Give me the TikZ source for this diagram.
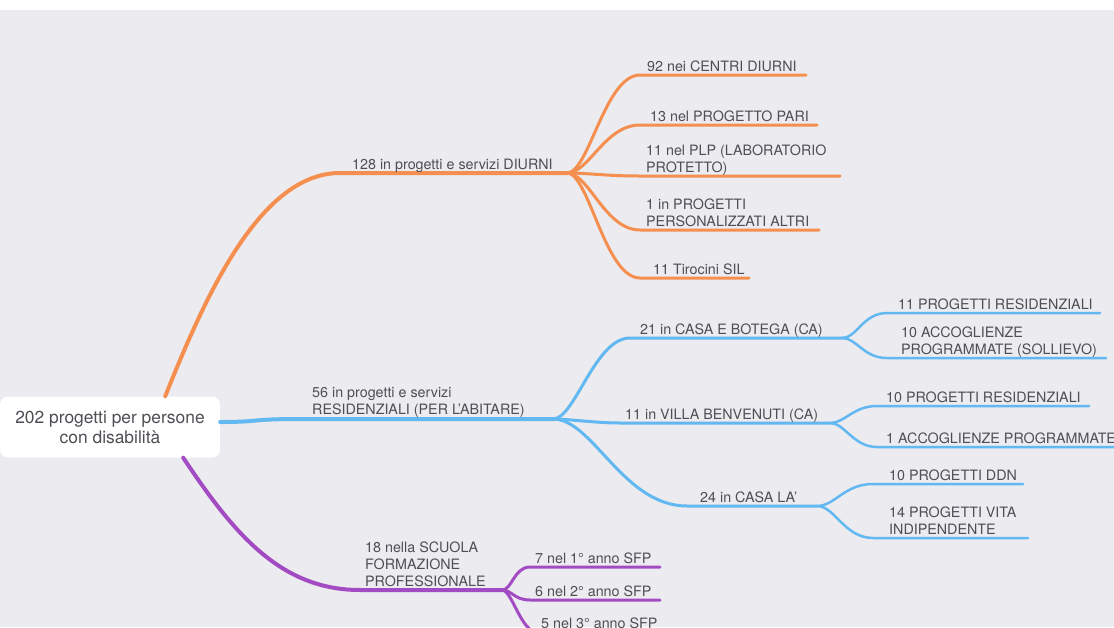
\documentclass[tikz,border=0pt]{standalone}
\usepackage{fontspec}
\setmainfont{TeX Gyre Heros}

\definecolor{mmbg}{RGB}{235,235,240}
\definecolor{mmtext}{RGB}{78,78,84}
\definecolor{mmorange}{RGB}{245,143,80}
\definecolor{mmblue}{RGB}{98,184,240}
\definecolor{mmpurple}{RGB}{163,75,195}

\tikzset{
  root/.style={
    fill=white,
    rounded corners=8pt,
    minimum width=220pt,
    minimum height=61pt,
    align=center,
    text=mmtext,
    font=\fontsize{17.4}{20}\selectfont},
  topic/.style={
    anchor=base west,
    inner sep=0pt,
    align=left,
    text=mmtext,
    font=\fontsize{14.3}{17}\selectfont},
  branch/.style={line width=4pt, line cap=round},
  twig/.style={line width=3pt, line cap=round},
  leaf/.style={line width=2.5pt, line cap=round},
  mmcurve/.style={to path={.. controls +(#1,0) and +({-1.6*#1},0) .. (\tikztotarget)}},
  mmcurve/.default=22,
}

\begin{document}
\begin{tikzpicture}[x=1pt, y=-1pt]
  \useasboundingbox (0,0) rectangle (1114,627);
  \clip (0,0) rectangle (1114,627);
  \fill[white] (0,0) rectangle (1114,10);
  \fill[mmbg] (0,10) rectangle (1114,627);

  \node[root] (root) at (110,427) {202 progetti per persone\\con disabilità};

  % diurni
  \coordinate (diurni-a) at (340,173);
  \coordinate (diurni-f) at (567,173);
  \draw[branch, mmorange] ([xshift=-55pt]root.north east)
    .. controls +(40,-100) and +(-80,0) .. (diurni-a) -- (diurni-f);
  \node[topic] (diurni) at (352,169) {128 in progetti e servizi DIURNI};

  \coordinate (centri-a) at (640,75);  \coordinate (centri-b) at (806,75);
  \coordinate (pari-a)   at (640,125); \coordinate (pari-b)   at (817,125);
  \coordinate (plp-a)    at (640,176); \coordinate (plp-b)    at (840,176);
  \coordinate (pers-a)   at (640,230); \coordinate (pers-b)   at (819,230);
  \coordinate (sil-a)    at (640,278); \coordinate (sil-b)    at (749,278);
  \draw[twig, mmorange] (diurni-f) to[mmcurve] (centri-a) -- (centri-b);
  \draw[twig, mmorange] (diurni-f) to[mmcurve] (pari-a) -- (pari-b);
  \draw[twig, mmorange] (diurni-f) to[mmcurve] (plp-a) -- (plp-b);
  \draw[twig, mmorange] (diurni-f) to[mmcurve] (pers-a) -- (pers-b);
  \draw[twig, mmorange] (diurni-f) to[mmcurve] (sil-a) -- (sil-b);
  \node[topic] (centri) at (647,71)  {92 nei CENTRI DIURNI};
  \node[topic] (pari)   at (650,121) {13 nel PROGETTO PARI};
  \node[topic] (plp)    at (646,172) {11 nel PLP (LABORATORIO\\PROTETTO)};
  \node[topic] (pers)   at (646,226) {1 in PROGETTI\\PERSONALIZZATI ALTRI};
  \node[topic] (sil)    at (653,274) {11 Tirocini SIL};

  % residenziali
  \coordinate (resid-a) at (300,419);
  \coordinate (resid-f) at (553,419);
  \draw[branch, mmblue] ([yshift=5pt]root.east)
    .. controls +(40,0) and +(-50,0) .. (resid-a) -- (resid-f);
  \node[topic] (resid) at (312,414) {56 in progetti e servizi\\RESIDENZIALI (PER L'ABITARE)};

  \coordinate (casa-a)  at (630,338); \coordinate (casa-f)  at (842,338);
  \coordinate (villa-a) at (620,423); \coordinate (villa-f) at (830,423);
  \coordinate (la-a)    at (687,506); \coordinate (la-f)    at (817,506);
  \draw[twig, mmblue] (resid-f) to[mmcurve] (casa-a) -- (casa-f);
  \draw[twig, mmblue] (resid-f) to[mmcurve=15] (villa-a) -- (villa-f);
  \draw[twig, mmblue] (resid-f) to[mmcurve=40] (la-a) -- (la-f);
  \node[topic] (casa)  at (640,334) {21 in CASA E BOTEGA (CA)};
  \node[topic] (villa) at (625,419) {11 in VILLA BENVENUTI (CA)};
  \node[topic] (la)    at (700,502) {24 in CASA LA'};

  \coordinate (res1-a) at (887,313); \coordinate (res1-b) at (1100,313);
  \coordinate (soll-a) at (887,358); \coordinate (soll-b) at (1106,358);
  \coordinate (res2-a) at (877,406); \coordinate (res2-b) at (1089,406);
  \coordinate (acc-a)  at (877,447); \coordinate (acc-b)  at (1130,447);
  \coordinate (ddn-a)  at (873,484); \coordinate (ddn-b)  at (1023,484);
  \coordinate (vita-a) at (873,538); \coordinate (vita-b) at (1028,538);
  \draw[leaf, mmblue] (casa-f) to[mmcurve=15] (res1-a) -- (res1-b);
  \draw[leaf, mmblue] (casa-f) to[mmcurve=15] (soll-a) -- (soll-b);
  \draw[leaf, mmblue] (villa-f) to[mmcurve=15] (res2-a) -- (res2-b);
  \draw[leaf, mmblue] (villa-f) to[mmcurve=15] (acc-a) -- (acc-b);
  \draw[leaf, mmblue] (la-f) to[mmcurve=18] (ddn-a) -- (ddn-b);
  \draw[leaf, mmblue] (la-f) to[mmcurve=18] (vita-a) -- (vita-b);
  \node[topic] (res1) at (898,309) {11 PROGETTI RESIDENZIALI};
  \node[topic] (soll) at (901,354) {10 ACCOGLIENZE\\PROGRAMMATE (SOLLIEVO)};
  \node[topic] (res2) at (886,402) {10 PROGETTI RESIDENZIALI};
  \node[topic] (acc)  at (886,443) {1 ACCOGLIENZE PROGRAMMATE};
  \node[topic] (ddn)  at (889,480) {10 PROGETTI DDN};
  \node[topic] (vita) at (889,534) {14 PROGETTI VITA\\INDIPENDENTE};

  % scuola
  \coordinate (sfp-a) at (360,590);
  \coordinate (sfp-f) at (502,590);
  \draw[branch, mmpurple] ([xshift=-37pt]root.south east)
    .. controls +(50,75) and +(-80,0) .. (sfp-a) -- (sfp-f);
  \node[topic] (sfp) at (365,586) {18 nella SCUOLA\\FORMAZIONE\\PROFESSIONALE};

  \coordinate (anno1-a) at (530,567); \coordinate (anno1-b) at (660,567);
  \coordinate (anno2-a) at (530,600); \coordinate (anno2-b) at (660,600);
  \coordinate (anno3-a) at (537,632); \coordinate (anno3-b) at (660,632);
  \draw[twig, mmpurple] (sfp-f) to[mmcurve=10] (anno1-a) -- (anno1-b);
  \draw[twig, mmpurple] (sfp-f) to[mmcurve=10] (anno2-a) -- (anno2-b);
  \draw[twig, mmpurple] (sfp-f) to[mmcurve=10] (anno3-a) -- (anno3-b);
  \node[topic] (anno1) at (535,563) {7 nel 1° anno SFP};
  \node[topic] (anno2) at (535,596) {6 nel 2° anno SFP};
  \node[topic] (anno3) at (541,628) {5 nel 3° anno SFP};
\end{tikzpicture}
\end{document}
